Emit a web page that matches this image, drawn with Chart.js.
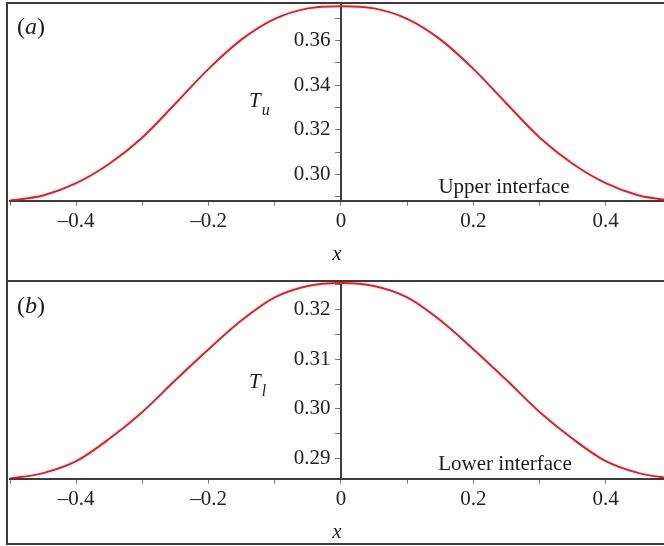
<!DOCTYPE html>
<html>
<head>
<meta charset="utf-8">
<script src="https://cdn.jsdelivr.net/npm/chart.js@4/dist/chart.umd.min.js"></script>
<style>
  html, body { margin: 0; padding: 0; background: #fff; }
  body { width: 664px; height: 546px; position: relative; overflow: hidden; }
  canvas { position: absolute; left: 0; }
  .frame { position: absolute; left: 6px; width: 680px; border: 2px solid #3c3c3c; border-right: none; pointer-events: none; }
</style>
</head>
<body>
<div class="frame" style="top:2px;height:276px"></div>
<div class="frame" style="top:282px;height:261px;border-top:none"></div>
<canvas id="upperChart" width="664" height="282" style="top:0"></canvas>
<canvas id="lowerChart" width="664" height="264" style="top:282px"></canvas>
<script>
// x positions along the interface
const xValues = [-0.5, -0.45, -0.4, -0.35, -0.3, -0.25, -0.2, -0.15, -0.1, -0.05, 0,
  0.05, 0.1, 0.15, 0.2, 0.25, 0.3, 0.35, 0.4, 0.45, 0.5];
// temperature at the upper interface
const upperT = [0.2883, 0.2906, 0.2961, 0.3048, 0.3166, 0.3318, 0.3473, 0.3605, 0.3697, 0.3744, 0.3754,
  0.3744, 0.3697, 0.3605, 0.3473, 0.3318, 0.3166, 0.3048, 0.2961, 0.2906, 0.2883];
// temperature at the lower interface
const lowerT = [0.2860, 0.2871, 0.2895, 0.2940, 0.2994, 0.3058, 0.3120, 0.3178, 0.3224, 0.3247, 0.3253,
  0.3247, 0.3224, 0.3178, 0.3120, 0.3058, 0.2994, 0.2940, 0.2895, 0.2871, 0.2860];
const upperTicks = [0.30, 0.32, 0.34, 0.36];
const lowerTicks = [0.29, 0.30, 0.31, 0.32];
const xTicks = [-0.4, -0.2, 0, 0.2, 0.4];

const serif = '"Liberation Serif", "Times New Roman", serif';
const axisColor = '#3c3c3c';

const panelText = {
  id: 'panelText',
  afterDraw(chart, args, opts) {
    const ctx = chart.ctx;
    ctx.save();
    ctx.fillStyle = '#1a1a1a';
    ctx.textBaseline = 'alphabetic';
    ctx.textAlign = 'left';
    const fontFor = (run) => `${run.italic ? 'italic ' : ''}${run.size}px ${serif}`;
    (opts.items || []).forEach((item) => {
      let x = item.x;
      if (item.center) {
        let w = 0;
        item.runs.forEach((run) => { ctx.font = fontFor(run); w += ctx.measureText(run.text).width; });
        x -= w / 2;
      }
      item.runs.forEach((run) => {
        ctx.font = fontFor(run);
        ctx.fillText(run.text, x + (run.dx || 0), item.y + (run.dy || 0));
        x += ctx.measureText(run.text).width + (run.dx || 0);
      });
    });
    ctx.restore();
  },
};

const near = (v, list) => list.some((t) => Math.abs(t - v) < 1e-6);

function xLabel(value) {
  if (!near(value, xTicks)) return '';
  if (Math.abs(value) < 1e-9) return '0';
  return value < 0 ? '\u2013' + Math.abs(value).toFixed(1) : value.toFixed(1);
}

// labels sit against the axis line at x = 0, the en space keeps them off it
const yLabel = (list) => (value) => (near(value, list) ? value.toFixed(2) + '\u2002' : '');

function noPadding(scale) {
  scale.paddingTop = 0;
  scale.paddingBottom = 0;
  scale.paddingLeft = 0;
  scale.paddingRight = 0;
}

function makePanel(canvasId, values, yMin, yMax, yStep, yLabels, pad, texts) {
  const points = xValues.map((x, i) => ({ x, y: values[i] }));
  return new Chart(document.getElementById(canvasId), {
    type: 'line',
    data: {
      datasets: [{
        data: points,
        borderColor: '#f2181c',
        borderWidth: 2,
        pointRadius: 0,
        cubicInterpolationMode: 'monotone',
        fill: false,
      }],
    },
    options: {
      responsive: false,
      animation: false,
      events: [],
      layout: { padding: { left: 10, right: 0, top: pad.top, bottom: pad.bottom } },
      plugins: {
        legend: { display: false },
        tooltip: { enabled: false },
        panelText: { items: texts },
      },
      scales: {
        x: {
          type: 'linear',
          position: 'bottom',
          min: -0.5,
          max: 0.488,
          afterFit: noPadding,
          grid: { drawOnChartArea: false, tickLength: 5, tickColor: '#777', tickWidth: 1 },
          border: { color: axisColor, width: 2 },
          ticks: {
            stepSize: 0.1,
            includeBounds: false,
            autoSkip: false,
            maxRotation: 0,
            padding: 3,
            color: '#222',
            font: { family: serif, size: 21 },
            callback: (value) => xLabel(value),
          },
          title: {
            display: true,
            text: 'x',
            color: '#222',
            padding: { top: 5, bottom: 0 },
            font: { family: serif, size: 21, style: 'italic' },
          },
        },
        y: {
          type: 'linear',
          position: { x: 0 },
          min: yMin,
          max: yMax,
          afterFit: noPadding,
          grid: { drawOnChartArea: false, tickLength: 5, tickColor: '#777', tickWidth: 1 },
          border: { color: axisColor, width: 2 },
          ticks: {
            stepSize: yStep,
            includeBounds: false,
            autoSkip: false,
            padding: 4,
            color: '#222',
            font: { family: serif, size: 21 },
            callback: yLabel(yLabels),
          },
        },
      },
    },
    plugins: [panelText],
  });
}

makePanel('upperChart', upperT, 0.2883, 0.3768, 0.01, upperTicks, { top: 3, bottom: 15 }, [
  { x: 17, y: 33.5, runs: [{ text: '(', size: 24 }, { text: 'a', size: 24, italic: true }, { text: ')', size: 24 }] },
  { x: 249, y: 107, runs: [{ text: 'T', size: 21, italic: true }, { text: 'u', size: 16, italic: true, dy: 8, dx: 1 }] },
  { x: 504, y: 193, center: true, runs: [{ text: 'Upper interface', size: 21 }] },
]);

makePanel('lowerChart', lowerT, 0.2860, 0.3255, 0.005, lowerTicks, { top: 0, bottom: 1 }, [
  { x: 17, y: 31, runs: [{ text: '(', size: 24 }, { text: 'b', size: 24, italic: true }, { text: ')', size: 24 }] },
  { x: 249, y: 106, runs: [{ text: 'T', size: 21, italic: true }, { text: 'l', size: 16, italic: true, dy: 8, dx: 1 }] },
  { x: 505, y: 188, center: true, runs: [{ text: 'Lower interface', size: 21 }] },
]);
</script>
</body>
</html>
